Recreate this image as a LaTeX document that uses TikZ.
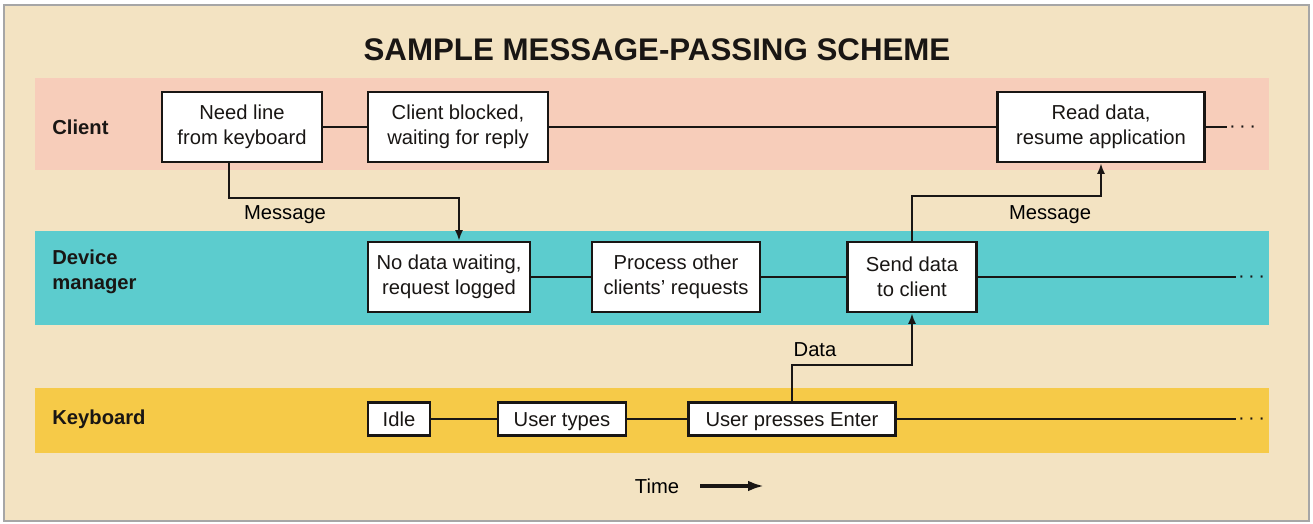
\documentclass[tikz,border=0pt]{standalone}
\usepackage{fontspec}
\setmainfont{Liberation Sans}
\usepackage{tikz}
\usetikzlibrary{arrows.meta, positioning}
\definecolor{paper}{RGB}{243,227,194}
\definecolor{clientpink}{RGB}{247,205,186}
\definecolor{devcyan}{RGB}{92,204,206}
\definecolor{keyyellow}{RGB}{246,202,72}
\definecolor{ink}{RGB}{25,22,20}

\begin{document}
\begin{tikzpicture}[
  x=0.02cm, y=-0.02cm,
  font=\fontsize{11.5}{14}\selectfont,
  stage/.style={rectangle, draw=ink, fill=white, line width=1.4pt, inner sep=0pt, minimum height=1.4cm, align=center, text=ink},
  key/.style={stage, minimum height=0.66cm, text height=8.2pt, text depth=0pt},
  lane/.style={font=\fontsize{11.5}{14}\selectfont\bfseries, anchor=west, align=left, inner sep=0pt, text=ink},
  tline/.style={line width=1.4pt, ink},
  arr/.style={-{Latex[length=6pt,width=4.5pt]}, line width=1.1pt, ink},
  more/.style={anchor=west, inner sep=1pt, yshift=-1.2pt, text=ink}
]
  % paper and swim lanes
  \fill[white] (0,0) rectangle (1313,524);
  \draw[gray!70, fill=paper, line width=0.8pt] (4,5) rectangle (1309,521);
  \fill[clientpink] (35,78) rectangle (1269,170);
  \fill[devcyan] (35,231) rectangle (1269,325);
  \fill[keyyellow] (35,388) rectangle (1269,453);
  \node[font=\fontsize{17.8}{20}\selectfont\bfseries, text=ink] (title) at (657,50) {SAMPLE MESSAGE-PASSING SCHEME};
  \node[lane] (lclient) at (52,127) {Client};
  \node[lane] (ldevice) at (52,272) {Device\\manager};
  \node[lane] (lkeyb) at (52,419) {Keyboard};
  % Client
  \node[stage, minimum width=3.2cm] (need) at (242,127) {Need line\\from keyboard};
  \node[stage, minimum width=3.6cm] (blocked) at (458,127) {Client blocked,\\waiting for reply};
  \node[stage, minimum width=4.14cm] (read) at (1101,127) {Read data,\\resume application};
  \node[more] (cmore) at (1227,127) {·\,·\,·};
  \draw[tline] (need) -- (blocked) (blocked) -- (read) (read.east) -- (read.east -| cmore.west);
  % Device manager
  \node[stage, minimum width=3.24cm] (nodata) at (449,277) {No data waiting,\\request logged};
  \node[stage, minimum width=3.36cm] (other) at (676,277) {Process other\\clients' requests};
  \node[stage, minimum width=2.58cm] (send) at (912,277) {Send data\\to client};
  \node[more] (dmore) at (1236,277) {·\,·\,·};
  \draw[tline] (nodata) -- (other) (other) -- (send) (send.east) -- (send.east -| dmore.west);
  % Keyboard
  \node[key, minimum width=1.24cm] (idle) at (399,419) {Idle};
  \node[key, minimum width=2.56cm] (types) at (562,419) {User types};
  \node[key, minimum width=4.14cm] (enter) at (792,419) {User presses Enter};
  \node[more] (kmore) at (1236,419) {·\,·\,·};
  \draw[tline] (idle) -- (types) (types) -- (enter) (enter.east) -- (enter.east -| kmore.west);
  % messages
  \coordinate (m1a) at (229,198);
  \coordinate (m1b) at (459,198);
  \draw[arr] (need.south -| m1a) -- (m1a) -- (m1b) -- (nodata.north -| m1b);
  \node (msg1) at (285,215) {Message};
  \coordinate (m2) at (0,196);
  \draw[arr] (send.north) |- (m2 -| read.south) -- (read.south);
  \node (msg2) at (1050,215) {Message};
  \coordinate (m3) at (0,365);
  \draw[arr] (enter.north) |- (m3 -| send.south) -- (send.south);
  \node (data) at (815,350) {Data};
  % Time
  \node (time) at (657,486) {Time};
  \coordinate (tend) at (764,486);
  \draw[-{Latex[length=9pt,width=6pt]}, line width=2pt, ink] ([xshift=0.3cm]time.east) -- (tend);
\end{tikzpicture}
\end{document}
